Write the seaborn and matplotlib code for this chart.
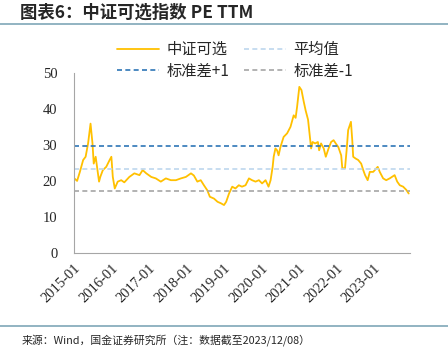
#!/usr/bin/env python3
"""
Recreate chart: CSI consumer discretionary index PE TTM with mean / +-1 std bands.
"""
import numpy as np
import pandas as pd
import matplotlib
matplotlib.use('Agg')
import matplotlib.pyplot as plt
import seaborn as sns

# data
dates = [
    '2015-01-05', '2015-02-01', '2015-02-28', '2015-04-01', '2015-04-25', '2015-05-19',
    '2015-06-12', '2015-07-01', '2015-07-13', '2015-08-01', '2015-09-03', '2015-09-15',
    '2015-10-10', '2015-11-12', '2015-12-15', '2016-01-01', '2016-01-15', '2016-02-03',
    '2016-03-03', '2016-04-06', '2016-05-06', '2016-06-24', '2016-08-12', '2016-10-01',
    '2016-11-01', '2016-12-06', '2017-01-24', '2017-03-09', '2017-04-27', '2017-06-15',
    '2017-08-03', '2017-09-21', '2017-11-09', '2017-12-27', '2018-02-15', '2018-03-15',
    '2018-04-18', '2018-05-21', '2018-06-21', '2018-07-24', '2018-08-18', '2018-09-27',
    '2018-11-01', '2018-12-03', '2019-01-03', '2019-01-24', '2019-02-21', '2019-03-24',
    '2019-04-24', '2019-05-27', '2019-06-27', '2019-08-01', '2019-09-03', '2019-10-03',
    '2019-11-06', '2019-12-09', '2020-01-09', '2020-02-12', '2020-03-12', '2020-04-01',
    '2020-04-21', '2020-05-01', '2020-05-18', '2020-06-03', '2020-06-18', '2020-07-06',
    '2020-08-06', '2020-09-09', '2020-10-12', '2020-11-12', '2020-12-01', '2020-12-15',
    '2021-01-06', '2021-01-27', '2021-02-18', '2021-03-09', '2021-04-01', '2021-04-12',
    '2021-05-01', '2021-05-15', '2021-06-09', '2021-07-06', '2021-07-18', '2021-08-06',
    '2021-09-01', '2021-09-21', '2021-10-18', '2021-11-12', '2021-12-06', '2021-12-27',
    '2022-01-21', '2022-02-18', '2022-03-01', '2022-03-27', '2022-04-12', '2022-04-27',
    '2022-05-24', '2022-06-06', '2022-06-15', '2022-07-09', '2022-08-03', '2022-09-01',
    '2022-09-21', '2022-10-09', '2022-11-03', '2022-11-24', '2022-12-27', '2023-02-09',
    '2023-03-01', '2023-04-03', '2023-05-03', '2023-06-06', '2023-07-24', '2023-08-18',
    '2023-09-12', '2023-10-15', '2023-11-15', '2023-12-08',
]
pe_ttm = [
    20.7, 20.0, 22.5, 25.8, 26.7, 30.4,
    35.9, 30.4, 24.8, 26.7, 19.8, 21.1,
    23.0, 23.9, 25.8, 26.7, 21.1, 17.9,
    19.8, 20.2, 19.6, 21.1, 22.1, 21.6,
    23.0, 22.1, 21.1, 20.7, 19.8, 20.7,
    20.2, 20.2, 20.7, 21.1, 22.1, 21.5,
    19.8, 20.2, 18.8, 17.4, 15.6, 15.1,
    14.2, 13.8, 13.3, 14.2, 16.5, 18.4,
    17.9, 18.8, 18.4, 18.8, 20.7, 20.2,
    19.8, 20.2, 19.3, 20.2, 18.4, 20.2,
    23.9, 26.7, 29.0, 28.5, 27.1, 29.4,
    32.2, 33.2, 35.0, 38.2, 37.5, 40.5,
    46.1, 45.2, 42.0, 39.5, 37.0, 34.1,
    29.0, 30.8, 30.4, 30.8, 28.5, 30.4,
    29.0, 26.7, 29.0, 30.8, 31.3, 30.4,
    29.4, 27.1, 23.5, 23.5, 28.5, 34.1,
    36.4, 31.3, 26.7, 26.2, 25.8, 24.8,
    23.0, 21.6, 20.2, 22.5, 22.5, 23.9,
    22.5, 20.7, 20.2, 20.7, 21.6, 19.8,
    18.8, 18.4, 17.5, 16.5,
]
mean_pe = 23.3
std_up = 29.6
std_down = 17.1

tick_labels = ['2015-01', '2016-01', '2017-01', '2018-01', '2019-01',
               '2020-01', '2021-01', '2022-01', '2023-01']

sns.set_style('white')
plt.rcParams['font.family'] = ['Liberation Serif', 'Noto Sans CJK SC']
cjk = ['Noto Sans CJK SC', 'DejaVu Sans']

df = pd.DataFrame({'date': pd.to_datetime(dates), 'pe': pe_ttm})

fig = plt.figure(figsize=(4.48, 3.64), dpi=100)
ax = fig.add_axes([0.165, 0.305, 0.75, 0.495])

sns.lineplot(data=df, x='date', y='pe', ax=ax, color='#FFC000', lw=1.3, label='中证可选')
ax.axhline(mean_pe, color='#BDD7EE', lw=1.2, ls=(0, (3, 2)), label='平均值')
ax.axhline(std_up, color='#2E75B6', lw=1.2, ls=(0, (3, 2)), label='标准差+1')
ax.axhline(std_down, color='#A6A6A6', lw=1.2, ls=(0, (3, 2)), label='标准差-1')

ax.set_ylim(0, 50)
ax.set_yticks([0, 10, 20, 30, 40, 50])
ax.set_xlim(pd.Timestamp('2015-01-01'), pd.Timestamp('2023-12-20'))
ax.set_xticks(pd.to_datetime(tick_labels))
ax.set_xticklabels(tick_labels, rotation=45, ha='right', rotation_mode='anchor')
ax.set_xlabel('')
ax.set_ylabel('')
ax.tick_params(axis='both', direction='in', length=4, color='#A6A6A6', labelsize=10.5,
               pad=6)
ax.tick_params(axis='y', pad=12)
for side in ['top', 'right']:
    ax.spines[side].set_visible(False)
for side in ['left', 'bottom']:
    ax.spines[side].set_color('#A6A6A6')
    ax.spines[side].set_linewidth(0.8)

handles, labels = ax.get_legend_handles_labels()
ax.get_legend().remove()
order = [0, 2, 1, 3]  # legend fills column by column
fig.legend([handles[i] for i in order], [labels[i] for i in order], ncol=2, loc='center',
           bbox_to_anchor=(0.525, 0.834), frameon=False, prop={'family': cjk, 'size': 11},
           handlelength=2.7, columnspacing=1.0, handletextpad=0.5, labelspacing=0.3)

# title and source
fig.text(0.045, 0.966, '图表6：中证可选指数 PE TTM', family=cjk, fontsize=12.5,
         fontweight='bold', style='italic', va='center', ha='left')
fig.add_artist(plt.Line2D([0, 1], [0.934, 0.934], color='#7FA7B8', lw=1.2))
fig.add_artist(plt.Line2D([0, 1], [0.104, 0.104], color='#7FA7B8', lw=1.2))
fig.text(0.048, 0.067, '来源：Wind，国金证券研究所（注：数据截至2023/12/08）', family=cjk,
         fontsize=7.8, va='center', ha='left')

fig.savefig('out.png', dpi=100)
